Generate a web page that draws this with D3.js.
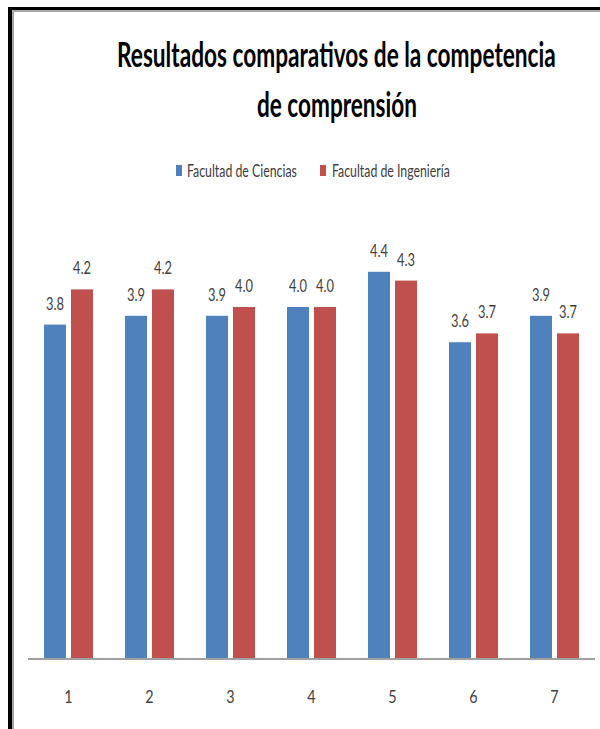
<!DOCTYPE html>
<html>
<head>
<meta charset="utf-8">
<script src="https://cdn.jsdelivr.net/npm/d3@7"></script>
<style>
  html, body { margin: 0; padding: 0; background: #fff; }
  svg { display: block; }
  text { font-family: Lato, "Open Sans", sans-serif; }
</style>
</head>
<body>
<svg id="chart" width="600" height="729"></svg>
<script>
// Data
const categories = ["1", "2", "3", "4", "5", "6", "7"];
const seriesNames = ["Facultad de Ciencias", "Facultad de Ingeniería"];
const ciencias = [3.8, 3.9, 3.9, 4.0, 4.4, 3.6, 3.9];
const ingenieria = [4.2, 4.2, 4.0, 4.0, 4.3, 3.7, 3.7];
const colors = ["#4F81BD", "#C0504D"];
const titleLines = ["Resultados comparativos de la competencia", "de comprensión"];

const svg = d3.select("#chart");

// Condensed text: draw at the origin, then squeeze horizontally into [xa, xb]
function condensedText(parent, str, xa, xb, yBase, size, weight, fill) {
  const g = parent.append("g");
  const t = g.append("text")
    .attr("x", 0).attr("y", 0)
    .attr("font-size", size).attr("font-weight", weight)
    .attr("fill", fill)
    .text(str);
  const w = t.node().getComputedTextLength();
  const sx = (xb - xa) / w;
  g.attr("transform", `translate(${xa},${yBase}) scale(${sx},1)`);
  return g;
}

// Frame
svg.append("rect").attr("x", 0).attr("y", 0).attr("width", 600).attr("height", 729).attr("fill", "#fff");
svg.append("rect").attr("x", 8).attr("y", 7).attr("width", 592).attr("height", 3).attr("fill", "#000");
svg.append("rect").attr("x", 8).attr("y", 7).attr("width", 4).attr("height", 722).attr("fill", "#000");
svg.append("rect").attr("x", 12).attr("y", 10).attr("width", 588).attr("height", 2).attr("fill", "#a6a6a6");
svg.append("rect").attr("x", 12).attr("y", 10).attr("width", 2).attr("height", 719).attr("fill", "#a6a6a6");

// Title
const titleSpecs = [
  { y: 67, x0: 117, x1: 556 },
  { y: 117, x0: 257, x1: 417 }
];
titleLines.forEach((t, i) => {
  const s = titleSpecs[i];
  condensedText(svg, t, s.x0, s.x1, s.y, 34, "bold", "#000");
});

// Legend
const legendSpecs = [
  { sq: 176, tx0: 187, tx1: 297 },
  { sq: 320, tx0: 332, tx1: 450 }
];
seriesNames.forEach((name, i) => {
  const s = legendSpecs[i];
  svg.append("rect").attr("x", s.sq).attr("y", 165).attr("width", 6).attr("height", 11).attr("fill", colors[i]);
  condensedText(svg, name, s.tx0, s.tx1, 177, 16.5, "normal", "#404040");
});

// Scales
const plotLeft = 28, plotRight = 595, plotBottom = 659, plotTop = 219;
const x0 = d3.scaleBand().domain(categories).range([plotLeft, plotRight])
  .paddingInner(0.395).paddingOuter(0.1975);
const x1 = d3.scaleBand().domain(seriesNames).range([0, x0.bandwidth()]).paddingInner(0.185);
const y = d3.scaleLinear().domain([0, 5]).range([plotBottom, plotTop]);

const rows = categories.map((c, i) => ({ cat: c, values: [ciencias[i], ingenieria[i]] }));

const groups = svg.append("g").selectAll("g").data(rows).join("g")
  .attr("transform", d => `translate(${x0(d.cat)},0)`);

groups.selectAll("rect").data(d => d.values.map((v, k) => ({ v, k })))
  .join("rect")
  .attr("x", d => x1(seriesNames[d.k]))
  .attr("y", d => y(d.v))
  .attr("width", x1.bandwidth())
  .attr("height", d => y(0) - y(d.v))
  .attr("fill", d => colors[d.k]);

// Value labels above each bar
groups.each(function (d) {
  const g = d3.select(this);
  d.values.forEach((v, k) => {
    const cx = x1(seriesNames[k]) + x1.bandwidth() / 2;
    condensedText(g, d3.format(".1f")(v), cx - 9, cx + 9, y(v) - 15, 16.5, "normal", "#404040");
  });
});

// Category axis
const xAxis = d3.axisBottom(x0).tickSize(0).tickPadding(0);
const axisG = svg.append("g").attr("transform", `translate(0,${plotBottom})`).call(xAxis);
axisG.select(".domain").attr("stroke", "#a0a0a0").attr("stroke-width", 2)
  .attr("d", `M${plotLeft},0H${plotRight}`);
axisG.selectAll(".tick text")
  .attr("y", 44).attr("dy", 0)
  .attr("font-family", "Lato, 'Open Sans', sans-serif")
  .attr("font-size", 18).attr("fill", "#404040")
  .attr("transform", "scale(0.8,1)");
</script>
</body>
</html>
